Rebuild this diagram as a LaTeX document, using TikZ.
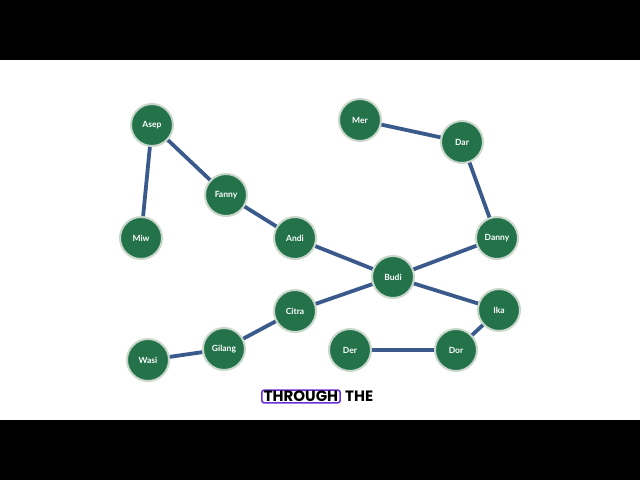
\documentclass[tikz,border=0pt]{standalone}
\usepackage{fontspec}
\setmainfont{Lato}
\newfontfamily\capfont{Poppins}
\definecolor{nodegreen}{HTML}{23724A}
\definecolor{nodering}{HTML}{C9D8CB}
\definecolor{edgeblue}{HTML}{3A5A8C}
\definecolor{cappurple}{HTML}{6A2FD2}
\tikzset{
  person/.style={circle, fill=nodegreen, draw=nodering, line width=2pt, minimum size=42pt, inner sep=0pt,
    text=white, font=\fontsize{8.5}{10}\selectfont\bfseries},
  link/.style={draw=edgeblue, line width=3.8pt},
  capbox/.style={draw=cappurple, line width=1.6pt, rounded corners=2.5pt, fill=white, inner xsep=2pt, inner ysep=1pt,
    font=\capfont\fontsize{15}{16}\selectfont\bfseries, text=black},
  captext/.style={inner sep=0pt, font=\capfont\fontsize{15}{16}\selectfont\bfseries, text=black}
}
\begin{document}
\begin{tikzpicture}[x=1pt,y=-1pt]
\useasboundingbox (0,0) rectangle (640,480);
\fill[black] (0,0) rectangle (640,60);
\fill[white] (0,60) rectangle (640,420);
\fill[black] (0,420) rectangle (640,480);

\node[person] (asep) at (152,125) {Asep};
\node[person] (miw) at (141,238) {Miw};
\node[person] (fanny) at (226,195) {Fanny};
\node[person] (andi) at (295,238) {Andi};
\node[person] (budi) at (393,277) {Budi};
\node[person] (citra) at (295,311) {Citra};
\node[person] (gilang) at (224,349) {Gilang};
\node[person] (wasi) at (148,360) {Wasi};
\node[person] (der) at (350,350) {Der};
\node[person] (dor) at (456,350) {Dor};
\node[person] (ika) at (499,310) {Ika};
\node[person] (danny) at (497,238) {Danny};
\node[person] (dar) at (462,142) {Dar};
\node[person] (mer) at (360,120) {Mer};

\draw[link] (asep) -- (miw);
\draw[link] (asep) -- (fanny);
\draw[link] (fanny) -- (andi);
\draw[link] (andi) -- (budi);
\draw[link] (budi) -- (danny);
\draw[link] (danny) -- (dar);
\draw[link] (dar) -- (mer);
\draw[link] (budi) -- (ika);
\draw[link] (ika) -- (dor);
\draw[link, line width=3.2pt] (dor) -- (der);
\draw[link] (budi) -- (citra);
\draw[link] (citra) -- (gilang);
\draw[link] (gilang) -- (wasi);

\node[capbox] (through) at (301,396.5) {THROUGH};
\node[captext, anchor=west] (the) at ([xshift=4pt]through.east) {THE};
\end{tikzpicture}
\end{document}
